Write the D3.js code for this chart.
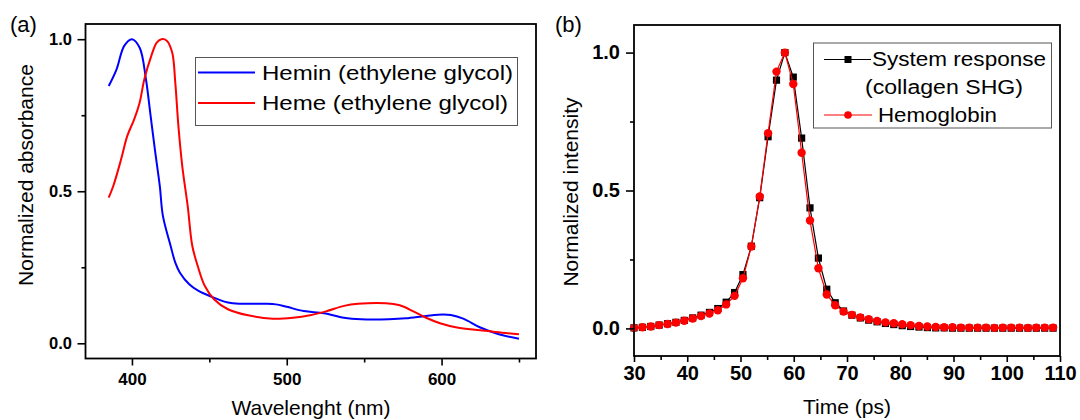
<!DOCTYPE html>
<html>
<head>
<script src="https://d3js.org/d3.v7.min.js"></script>
<style>
body { margin: 0; background: #fff; }
svg text { font-family: "Liberation Sans", Arial, sans-serif; }
</style>
</head>
<body>
<svg id="fig" width="1080" height="420"></svg>
<script>
/* panel (a): absorbance spectra */
var heminWl  = [385, 390, 395, 400, 405, 409, 412, 415, 418, 420, 425, 428, 431, 437, 443, 451, 462, 471, 486, 493, 500, 511, 524, 537, 548, 566, 577, 590, 601, 606, 614, 625, 637, 650];
var heminAbs = [0.846, 0.90, 0.978, 1.0, 0.972, 0.87, 0.75, 0.63, 0.517, 0.419, 0.32, 0.265, 0.232, 0.194, 0.172, 0.154, 0.134, 0.130, 0.130, 0.128, 0.120, 0.106, 0.099, 0.084, 0.079, 0.079, 0.082, 0.090, 0.095, 0.093, 0.081, 0.052, 0.030, 0.015];
var hemeWl   = [385, 388, 393, 397, 401.5, 405, 408, 412.5, 416, 419, 422.5, 426, 428, 430, 432.5, 436, 439, 442.5, 447, 453, 462, 475, 491, 504, 515, 526, 537, 546, 564, 573, 581.5, 590, 599, 610, 625, 639, 650];
var hemeAbs  = [0.479, 0.518, 0.605, 0.682, 0.737, 0.792, 0.868, 0.945, 0.989, 1.0, 0.995, 0.956, 0.857, 0.715, 0.583, 0.452, 0.32, 0.254, 0.189, 0.145, 0.112, 0.092, 0.081, 0.084, 0.092, 0.106, 0.123, 0.130, 0.132, 0.125, 0.106, 0.084, 0.066, 0.052, 0.043, 0.035, 0.030];
var legendA  = ["Hemin (ethylene glycol)", "Heme (ethylene glycol)"];

/* panel (b): time traces */
var timePs = [30.00, 31.57, 33.15, 34.72, 36.30, 37.87, 39.44, 41.02, 42.59, 44.17, 45.74, 47.31, 48.89, 50.46, 52.04, 53.61, 55.18, 56.76, 58.33, 59.91, 61.48, 63.05, 64.63, 66.20, 67.78, 69.35, 70.92, 72.50, 74.07, 75.65, 77.22, 78.79, 80.37, 81.94, 83.52, 85.09, 86.66, 88.24, 89.81, 91.39, 92.96, 94.53, 96.11, 97.68, 99.26, 100.83, 102.40, 103.98, 105.55, 107.13, 108.70];
var systemResp = [0.002, 0.004, 0.007, 0.012, 0.017, 0.022, 0.029, 0.038, 0.048, 0.058, 0.072, 0.095, 0.130, 0.195, 0.298, 0.474, 0.695, 0.900, 1.0, 0.911, 0.690, 0.437, 0.255, 0.142, 0.093, 0.063, 0.048, 0.038, 0.030, 0.024, 0.018, 0.014, 0.010, 0.007, 0.005, 0.003, 0.002, 0.002, 0.001, 0.001, 0.001, 0.001, 0.001, 0.001, 0.001, 0.001, 0.001, 0.001, 0.001, 0.001, 0.001];
var hemoglobin = [0.002, 0.004, 0.007, 0.012, 0.016, 0.021, 0.028, 0.036, 0.045, 0.054, 0.066, 0.087, 0.118, 0.182, 0.297, 0.478, 0.708, 0.931, 1.0, 0.886, 0.637, 0.391, 0.218, 0.123, 0.084, 0.061, 0.049, 0.040, 0.033, 0.027, 0.022, 0.019, 0.015, 0.012, 0.009, 0.007, 0.005, 0.004, 0.004, 0.003, 0.003, 0.003, 0.003, 0.002, 0.003, 0.003, 0.003, 0.002, 0.003, 0.003, 0.003];
var legendB = ["System response", "(collagen SHG)", "Hemoglobin"];

var svg = d3.select("#fig");

// draws box frame + outward ticks on left and bottom
function frame(x, y, o) {
  var g = svg.append("g");
  var L = x.range()[0], R = x.range()[1], B = y.range()[0], T = y.range()[1];

  var xa = g.append("g").attr("transform", "translate(0," + B + ")")
    .call(d3.axisBottom(x).tickValues(o.xMajor).tickSize(o.xTick).tickPadding(o.xPad).tickFormat(d3.format("d")));
  g.append("g").attr("transform", "translate(0," + B + ")")
    .call(d3.axisBottom(x).tickValues(o.xMinor).tickSize(4).tickFormat(""));
  var ya = g.append("g").attr("transform", "translate(" + L + ",0)")
    .call(d3.axisLeft(y).tickValues([0, 0.5, 1]).tickSize(8).tickPadding(o.yPad).tickFormat(d3.format(".1f")));
  g.append("g").attr("transform", "translate(" + L + ",0)")
    .call(d3.axisLeft(y).tickValues([0.25, 0.75]).tickSize(4).tickFormat(""));

  g.selectAll(".domain").remove();
  g.selectAll(".tick line").attr("stroke", "#000").attr("stroke-width", 1.6);
  xa.attr("font-size", o.xFont).selectAll("text").attr("font-weight", "bold").attr("fill", "#000");
  ya.attr("font-size", o.yFont).selectAll("text").attr("font-weight", "bold").attr("fill", "#000");

  g.append("rect").attr("x", L).attr("y", T).attr("width", R - L).attr("height", B - T)
    .attr("fill", "none").attr("stroke", "#000").attr("stroke-width", 1.8);
}

function label(txt, x, y, size, opts) {
  opts = opts || {};
  var t = svg.append("text").attr("x", x).attr("y", y).attr("font-size", size).attr("fill", "#000")
    .attr("text-anchor", opts.anchor || "start").text(txt);
  if (opts.rot) t.attr("transform", "rotate(-90," + x + "," + y + ")");
  if (opts.len) t.attr("textLength", opts.len).attr("lengthAdjust", "spacingAndGlyphs");
  return t;
}

/* ---------- panel (a) ---------- */
var xA = d3.scaleLinear().domain([370, 661]).range([85.5, 536]);
var yA = d3.scaleLinear().domain([-0.05, 1.05]).range([358.5, 24]);

var lineA = d3.line().curve(d3.curveCatmullRom.alpha(0.5))
  .x(function(d) { return xA(d[0]); }).y(function(d) { return yA(d[1]); });

svg.append("path").datum(d3.zip(heminWl, heminAbs)).attr("d", lineA)
  .attr("fill", "none").attr("stroke", "#0000ff").attr("stroke-width", 2);
svg.append("path").datum(d3.zip(hemeWl, hemeAbs)).attr("d", lineA)
  .attr("fill", "none").attr("stroke", "#ff0000").attr("stroke-width", 2);

frame(xA, yA, {xMajor: [400, 500, 600], xMinor: [450, 550, 650], xTick: 7, xPad: 7, xFont: 17, yFont: 16.5, yPad: 5.5});

// legend (a)
svg.append("rect").attr("x", 195.5).attr("y", 57.5).attr("width", 322).attr("height", 68)
  .attr("fill", "#fff").attr("stroke", "#555").attr("stroke-width", 1);
[["#0000ff", 72.5, 79.5, 251], ["#ff0000", 103, 110, 246]].forEach(function(r, i) {
  svg.append("line").attr("x1", 198).attr("x2", 255).attr("y1", r[1]).attr("y2", r[1])
    .attr("stroke", r[0]).attr("stroke-width", 2);
  label(legendA[i], 262, r[2], 20, {len: r[3]});
});

label("Wavelenght (nm)", 311, 415, 21, {anchor: "middle"});
label("Normalized absorbance", 33, 175, 21, {anchor: "middle", rot: true});
label("(a)", 10, 32, 22);

/* ---------- panel (b) ---------- */
var xB = d3.scaleLinear().domain([30, 110]).range([634, 1060]);
var yB = d3.scaleLinear().domain([-0.1, 1.1]).range([356, 25]);

var lineB = d3.line().x(function(d) { return xB(d[0]); }).y(function(d) { return yB(d[1]); });

var sys = d3.zip(timePs, systemResp), hb = d3.zip(timePs, hemoglobin);

svg.append("path").datum(sys).attr("d", lineB).attr("fill", "none").attr("stroke", "#000").attr("stroke-width", 1.2);
svg.selectAll(".sq").data(sys).enter().append("rect").attr("class", "sq")
  .attr("x", function(d) { return xB(d[0]) - 3.6; }).attr("y", function(d) { return yB(d[1]) - 3.6; })
  .attr("width", 7.2).attr("height", 7.2).attr("fill", "#000");

svg.append("path").datum(hb).attr("d", lineB).attr("fill", "none").attr("stroke", "#ff0000").attr("stroke-width", 1.2);
svg.selectAll(".dot").data(hb).enter().append("circle").attr("class", "dot")
  .attr("cx", function(d) { return xB(d[0]); }).attr("cy", function(d) { return yB(d[1]); })
  .attr("r", 4.2).attr("fill", "#ff0000");

frame(xB, yB, {xMajor: d3.range(30, 111, 10), xMinor: d3.range(35, 110, 10), xTick: 6, xPad: 4, xFont: 20, yFont: 20, yPad: 6});

// legend (b)
svg.append("rect").attr("x", 813.5).attr("y", 43).attr("width", 238).attr("height", 85)
  .attr("fill", "#fff").attr("stroke", "#555").attr("stroke-width", 1);
svg.append("line").attr("x1", 824).attr("x2", 871).attr("y1", 59.5).attr("y2", 59.5).attr("stroke", "#000").attr("stroke-width", 1.2);
svg.append("rect").attr("x", 848 - 3.5).attr("y", 59.5 - 3.5).attr("width", 7).attr("height", 7).attr("fill", "#000");
svg.append("line").attr("x1", 824).attr("x2", 872).attr("y1", 115).attr("y2", 115).attr("stroke", "#ff0000").attr("stroke-width", 1.2);
svg.append("circle").attr("cx", 848).attr("cy", 115).attr("r", 3.8).attr("fill", "#ff0000");
label(legendB[0], 872, 65.5, 20, {len: 174});
label(legendB[1], 865, 94, 20, {len: 158});
label(legendB[2], 878, 122, 20, {len: 119});

label("Time (ps)", 847, 414, 21, {anchor: "middle"});
label("Normalized intensity", 578, 192, 21, {anchor: "middle", rot: true});
label("(b)", 555, 32, 22);
</script>
</body>
</html>
